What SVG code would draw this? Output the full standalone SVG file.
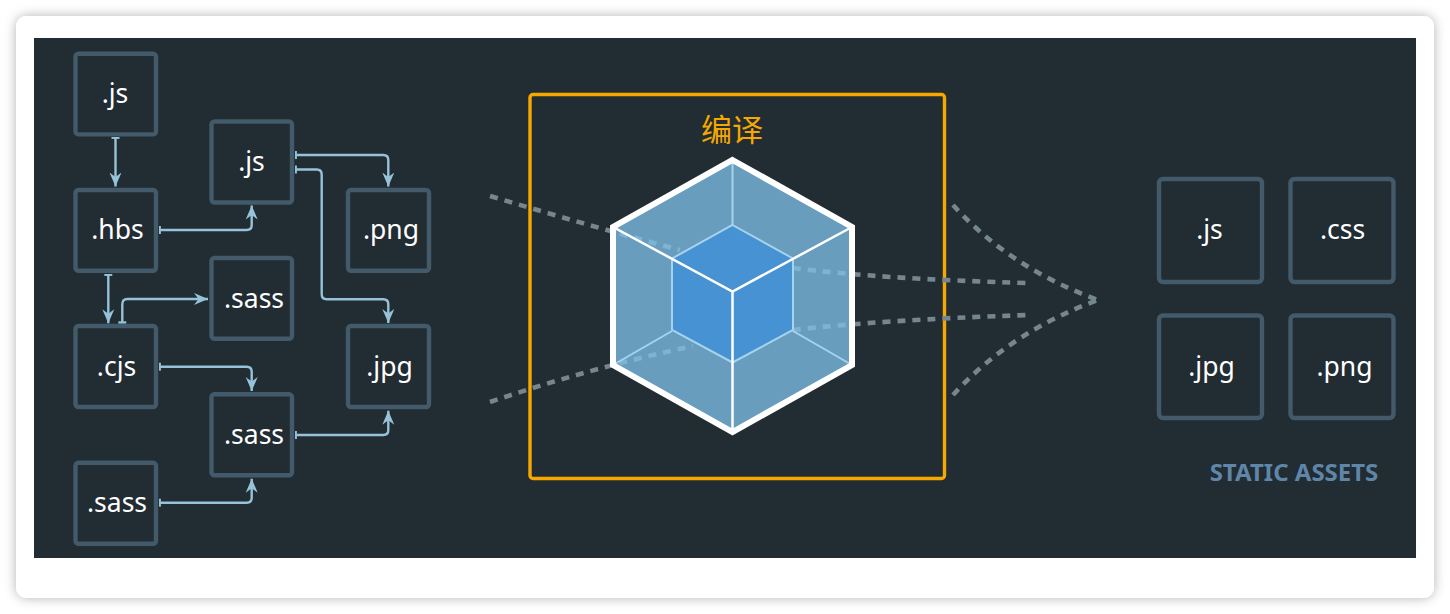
<svg xmlns="http://www.w3.org/2000/svg" width="1450" height="614" viewBox="0 0 1450 614">
<style>
.box{fill:none;stroke:#425a69;stroke-width:4.4}
.lbl{font-family:"Noto Sans","Open Sans",sans-serif;font-size:26.500px;fill:#fff;text-anchor:middle}
.link{fill:none;stroke:#96c3da;stroke-width:2.400;marker-start:url(#tick);marker-end:url(#arrow)}
.dash{fill:none;stroke:#76868e;stroke-width:4.600;stroke-dasharray:8 7}
.inner{stroke:#a6d3ee;stroke-width:2;fill:none}
.wline{stroke:#fff;stroke-width:2.500;fill:none}
</style>
<defs>
<filter id="shadow" x="-5%" y="-5%" width="110%" height="110%"><feDropShadow dx="0" dy="0" stdDeviation="6" flood-color="#000" flood-opacity="0.3"/></filter>
<marker id="arrow" markerUnits="userSpaceOnUse" markerWidth="17" markerHeight="14" refX="14" refY="6.500" orient="auto"><path d="M0 0.500L14 6.500L0 12.500L4.500 6.500Z" fill="#96c3da"/></marker>
<marker id="tick" markerUnits="userSpaceOnUse" markerWidth="4" markerHeight="10" refX="1" refY="5" orient="auto"><rect x="0" y="1" width="2.400" height="8" fill="#96c3da"/></marker>
</defs>
<rect width="1450" height="614" fill="#fff"/>
<rect x="16" y="16" width="1418" height="582" rx="11" fill="#fff" filter="url(#shadow)"/>
<rect x="34" y="38" width="1382" height="520" fill="#222c33"/>
<g id="compile-frame">
<rect x="530" y="94.500" width="414.500" height="384" rx="3" fill="none" stroke="#f6a800" stroke-width="3.400"/>
<text x="732" y="140.500" font-family="'Noto Sans CJK SC',sans-serif" font-size="31" fill="#f6a800" text-anchor="middle">编译</text>
</g>
<g id="connectors">
<path class="link" d="M115.500 137.500V186.500"/>
<path class="link" d="M159.500 230H246.700Q251.700 230 251.700 225V205.500"/>
<path class="link" d="M295.500 155H383.300Q388.300 155 388.300 160V186.500"/>
<path class="link" d="M295.500 169.500H316.700Q321.700 169.500 321.700 174.500V294.300Q321.700 299.300 326.700 299.300H383.300Q388.300 299.300 388.300 304.300V323"/>
<path class="link" d="M108.300 274.500V323.300"/>
<path class="link" d="M122.300 322.700V304.300Q122.300 299 127.300 299H208"/>
<path class="link" d="M159.500 366.700H246.700Q251.700 366.700 251.700 371.700V391"/>
<path class="link" d="M295.500 435H383.300Q388.300 435 388.300 430V410.700"/>
<path class="link" d="M159.500 502.700H246.700Q251.700 502.700 251.700 497.700V478.700"/>
<path class="dash" d="M490 196Q590 226 680 250"/>
<path class="dash" d="M490 402Q590 368 693 346"/>
<path class="dash" d="M793 268Q880 279 1028 283"/>
<path class="dash" d="M793 330Q880 320 1028 315"/>
<path class="dash" d="M953 205Q1010 268 1098 300"/>
<path class="dash" d="M953 395Q1010 332 1098 300"/>
</g>
<g id="webpack-cube">
<path d="M732.500 160L852 227V365L732.500 432L613 365V227Z" fill="#7fc1e9" fill-opacity="0.76"/>
<path d="M732.500 225L793 258.500V330L732.500 362.500L672 330V258.500Z" fill="#4792d3"/>
<path class="inner" d="M732.500 225L793 258.500V330L732.500 362.500L672 330V258.500Z"/>
<path class="inner" d="M732.500 160V225M613 365L672 331M852 365L793 331"/>
<path class="wline" d="M613 227L732.500 291.500L852 227M732.500 291.500V432"/>
<path d="M732.500 160L852 227V365L732.500 432L613 365V227Z" fill="none" stroke="#fff" stroke-width="6"/>
</g>
<g id="src-js-1"><rect class="box" x="75.500" y="53.700" width="80.500" height="80.700" rx="3"/><text class="lbl" x="115" y="102.800">.js</text></g>
<g id="src-hbs"><rect class="box" x="75.500" y="190" width="80.500" height="80.700" rx="3"/><text class="lbl" x="117.500" y="238.800">.hbs</text></g>
<g id="src-cjs"><rect class="box" x="75.500" y="326" width="80.500" height="81" rx="3"/><text class="lbl" x="116.500" y="375.800">.cjs</text></g>
<g id="src-sass-3"><rect class="box" x="75.500" y="462.700" width="80.500" height="81" rx="3"/><text class="lbl" x="117" y="511.800">.sass</text></g>
<g id="src-js-2"><rect class="box" x="211.500" y="121.500" width="80.500" height="81" rx="3"/><text class="lbl" x="251.500" y="170.800">.js</text></g>
<g id="src-sass-1"><rect class="box" x="211.500" y="258" width="80.500" height="80.700" rx="3"/><text class="lbl" x="254" y="307.800">.sass</text></g>
<g id="src-sass-2"><rect class="box" x="211.500" y="394.300" width="80.500" height="81" rx="3"/><text class="lbl" x="254" y="443.800">.sass</text></g>
<g id="src-png"><rect class="box" x="348" y="190" width="81" height="80.700" rx="3"/><text class="lbl" x="391" y="238.800">.png</text></g>
<g id="src-jpg"><rect class="box" x="348" y="326" width="81" height="81" rx="3"/><text class="lbl" x="389.500" y="375.800">.jpg</text></g>
<g id="out-js"><rect class="box" x="1159" y="179" width="103" height="103" rx="4"/><text class="lbl" x="1209.500" y="238.800">.js</text></g>
<g id="out-css"><rect class="box" x="1290.500" y="179" width="103" height="103" rx="4"/><text class="lbl" x="1342.500" y="238.800">.css</text></g>
<g id="out-jpg"><rect class="box" x="1159" y="315.500" width="103" height="102.500" rx="4"/><text class="lbl" x="1211.500" y="375.800">.jpg</text></g>
<g id="out-png"><rect class="box" x="1290.500" y="315.500" width="103" height="102.500" rx="4"/><text class="lbl" x="1344.500" y="375.800">.png</text></g>
<text x="1294" y="480.500" font-family="'Noto Sans','Open Sans',sans-serif" font-size="24" font-weight="700" fill="#5f86a8" text-anchor="middle">STATIC ASSETS</text>
</svg>
